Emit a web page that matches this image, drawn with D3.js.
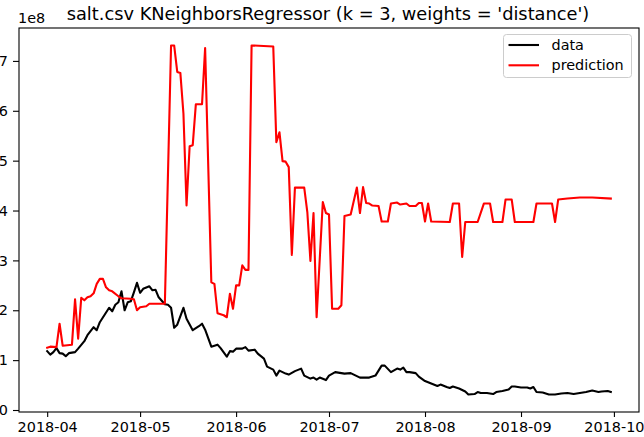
<!DOCTYPE html>
<html><head><meta charset="utf-8">
<script src="https://cdn.jsdelivr.net/npm/d3@7/dist/d3.min.js"></script>
<style>
body{margin:0;background:#fff}
svg{display:block}
text{font-family:"DejaVu Sans",sans-serif;fill:#000}
</style>
</head><body>
<svg id="chart" width="644" height="437"></svg>
<script>
const titleText = "salt.csv KNeighborsRegressor (k = 3, weights = 'distance')";
const seriesNames = ["data", "prediction"];
const seriesColors = ["#000000", "#ff0000"];
const yExponentLabel = "1e8";

const dataDates = ["2018-04-01","2018-04-02","2018-04-03","2018-04-04","2018-04-05","2018-04-06","2018-04-07","2018-04-08","2018-04-10","2018-04-11","2018-04-13","2018-04-14","2018-04-16","2018-04-17","2018-04-18","2018-04-21","2018-04-22","2018-04-23","2018-04-24","2018-04-25","2018-04-26","2018-04-27","2018-04-28","2018-04-29","2018-04-30","2018-05-01","2018-05-02","2018-05-04","2018-05-05","2018-05-06","2018-05-07","2018-05-09","2018-05-10","2018-05-11","2018-05-12","2018-05-13","2018-05-15","2018-05-16","2018-05-18","2018-05-20","2018-05-21","2018-05-22","2018-05-24","2018-05-26","2018-05-27","2018-05-29","2018-05-30","2018-05-31","2018-06-01","2018-06-03","2018-06-04","2018-06-05","2018-06-07","2018-06-08","2018-06-10","2018-06-11","2018-06-13","2018-06-14","2018-06-15","2018-06-17","2018-06-18","2018-06-20","2018-06-22","2018-06-23","2018-06-25","2018-06-26","2018-06-27","2018-06-28","2018-06-30","2018-07-01","2018-07-03","2018-07-04","2018-07-06","2018-07-08","2018-07-09","2018-07-11","2018-07-14","2018-07-16","2018-07-17","2018-07-18","2018-07-19","2018-07-21","2018-07-23","2018-07-24","2018-07-25","2018-07-26","2018-07-27","2018-07-29","2018-07-30","2018-08-01","2018-08-03","2018-08-05","2018-08-06","2018-08-08","2018-08-09","2018-08-10","2018-08-12","2018-08-14","2018-08-15","2018-08-17","2018-08-18","2018-08-19","2018-08-21","2018-08-23","2018-08-24","2018-08-26","2018-08-28","2018-08-29","2018-08-30","2018-09-01","2018-09-03","2018-09-04","2018-09-05","2018-09-06","2018-09-08","2018-09-10","2018-09-12","2018-09-14","2018-09-16","2018-09-18","2018-09-19","2018-09-21","2018-09-22","2018-09-24","2018-09-26","2018-09-27","2018-09-29","2018-09-30"];
const dataValues = [1.18,1.11,1.16,1.24,1.14,1.13,1.08,1.14,1.16,1.23,1.38,1.50,1.66,1.60,1.76,2.05,1.98,2.11,2.16,2.38,2.00,2.16,2.18,2.36,2.55,2.35,2.43,2.48,2.40,2.41,2.26,2.12,2.11,2.05,1.65,1.71,2.05,1.83,1.60,1.68,1.73,1.61,1.27,1.31,1.24,1.07,1.18,1.17,1.23,1.23,1.26,1.19,1.21,1.13,1.03,0.87,0.81,0.69,0.79,0.73,0.71,0.78,0.83,0.69,0.63,0.65,0.61,0.65,0.60,0.69,0.76,0.75,0.73,0.74,0.71,0.65,0.65,0.69,0.79,0.89,0.89,0.76,0.83,0.81,0.85,0.76,0.76,0.74,0.67,0.58,0.53,0.48,0.51,0.46,0.44,0.47,0.43,0.37,0.31,0.32,0.36,0.34,0.34,0.32,0.36,0.38,0.41,0.47,0.47,0.45,0.45,0.43,0.46,0.36,0.35,0.31,0.31,0.33,0.34,0.32,0.33,0.35,0.36,0.39,0.36,0.37,0.38,0.36];

const predDates = ["2018-04-01","2018-04-02","2018-04-04","2018-04-05","2018-04-06","2018-04-09","2018-04-10","2018-04-11","2018-04-12","2018-04-13","2018-04-14","2018-04-15","2018-04-16","2018-04-17","2018-04-18","2018-04-19","2018-04-20","2018-04-21","2018-04-22","2018-04-24","2018-04-25","2018-04-28","2018-04-29","2018-04-30","2018-05-01","2018-05-03","2018-05-04","2018-05-09","2018-05-11","2018-05-12","2018-05-13","2018-05-14","2018-05-15","2018-05-16","2018-05-17","2018-05-18","2018-05-19","2018-05-21","2018-05-22","2018-05-24","2018-05-25","2018-05-26","2018-05-28","2018-05-29","2018-05-30","2018-05-31","2018-06-01","2018-06-02","2018-06-03","2018-06-04","2018-06-05","2018-06-06","2018-06-13","2018-06-14","2018-06-15","2018-06-16","2018-06-17","2018-06-18","2018-06-19","2018-06-20","2018-06-23","2018-06-24","2018-06-25","2018-06-26","2018-06-27","2018-06-29","2018-06-30","2018-07-01","2018-07-02","2018-07-04","2018-07-05","2018-07-06","2018-07-08","2018-07-10","2018-07-11","2018-07-12","2018-07-13","2018-07-14","2018-07-15","2018-07-17","2018-07-18","2018-07-20","2018-07-21","2018-07-23","2018-07-24","2018-07-26","2018-07-27","2018-07-29","2018-07-30","2018-07-31","2018-08-01","2018-08-02","2018-08-03","2018-08-09","2018-08-10","2018-08-12","2018-08-13","2018-08-14","2018-08-18","2018-08-20","2018-08-22","2018-08-23","2018-08-26","2018-08-27","2018-08-29","2018-08-30","2018-09-05","2018-09-06","2018-09-11","2018-09-12","2018-09-13","2018-09-16","2018-09-20","2018-09-24","2018-09-30"];
const predValues = [1.25,1.27,1.26,1.73,1.29,1.31,2.22,1.43,2.25,2.20,2.26,2.28,2.34,2.53,2.63,2.63,2.46,2.40,2.38,2.28,2.24,2.23,2.22,2.00,2.06,2.08,2.13,2.13,7.31,7.31,6.78,6.76,5.94,4.10,5.29,5.31,6.13,6.13,7.26,2.56,2.53,1.94,1.90,1.86,2.33,2.03,2.50,2.50,2.90,2.81,2.81,7.31,7.29,5.37,5.57,4.99,4.98,4.87,3.11,4.46,4.46,3.97,2.99,3.95,1.86,4.17,3.95,3.92,2.03,2.03,2.10,3.89,3.92,4.46,3.95,4.47,4.15,4.14,4.10,4.09,3.78,3.78,4.14,4.16,4.12,4.14,4.09,4.09,4.15,4.15,3.78,4.14,3.78,3.77,4.14,4.14,3.07,3.77,3.77,4.14,4.14,3.77,3.77,4.22,4.22,3.77,3.77,4.14,4.14,3.77,4.22,4.24,4.26,4.26,4.24];

const xTickLabels = ["2018-04","2018-05","2018-06","2018-07","2018-08","2018-09","2018-10"];
const yTickLabels = ["0","1","2","3","4","5","6","7"];

const svg = d3.select("#chart");
const plot = {left: 19, top: 28, right: 639, bottom: 412};
const parseDay = d3.utcParse("%Y-%m-%d");
const parseMonth = d3.utcParse("%Y-%m");

const series = [
  dataDates.map((d, i) => ({date: parseDay(d), value: dataValues[i]})),
  predDates.map((d, i) => ({date: parseDay(d), value: predValues[i]}))
];

// matplotlib-style 5% margins around data extent
const allDates = series.flat().map(p => +p.date);
const allVals = series.flat().map(p => p.value);
const [dx0, dx1] = d3.extent(allDates);
const [vy0, vy1] = d3.extent(allVals);
const padX = (dx1 - dx0) * 0.05, padY = (vy1 - vy0) * 0.05;

const x = d3.scaleUtc().domain([new Date(dx0 - padX), new Date(dx1 + padX)]).range([plot.left, plot.right]);
const y = d3.scaleLinear().domain([vy0 - padY, vy1 + padY]).range([plot.bottom, plot.top]);

const tickFont = "14.4px";

// x axis
const xAxis = d3.axisBottom(x)
  .tickValues(xTickLabels.map(parseMonth))
  .tickFormat((d, i) => xTickLabels[i])
  .tickSize(5).tickPadding(5);
const gx = svg.append("g").attr("transform", `translate(0,${plot.bottom})`).call(xAxis);
gx.select(".domain").remove();
gx.selectAll("line").attr("stroke", "#000").attr("stroke-width", 1.1);
gx.selectAll("text").attr("font-size", tickFont).attr("font-family", "DejaVu Sans").attr("fill", "#000");

// y axis
const yAxis = d3.axisLeft(y)
  .tickValues(yTickLabels.map(Number))
  .tickFormat((d, i) => yTickLabels[i])
  .tickSize(6).tickPadding(5);
const gy = svg.append("g").attr("transform", `translate(${plot.left},0)`).call(yAxis);
gy.select(".domain").remove();
gy.selectAll("line").attr("stroke", "#000").attr("stroke-width", 1.1);
gy.selectAll("text").attr("font-size", tickFont).attr("font-family", "DejaVu Sans").attr("fill", "#000");

// lines
const line = d3.line().x(d => x(d.date)).y(d => y(d.value));
series.forEach((s, i) => {
  svg.append("path").datum(s)
    .attr("fill", "none")
    .attr("stroke", seriesColors[i])
    .attr("stroke-width", 2.1)
    .attr("stroke-linejoin", "round")
    .attr("stroke-linecap", "square")
    .attr("d", line);
});

// frame
svg.append("rect")
  .attr("x", plot.left).attr("y", plot.top)
  .attr("width", plot.right - plot.left).attr("height", plot.bottom - plot.top)
  .attr("fill", "none").attr("stroke", "#000").attr("stroke-width", 1.1);

// title
svg.append("text")
  .attr("x", (plot.left + plot.right) / 2 - 1).attr("y", 20)
  .attr("text-anchor", "middle")
  .attr("font-size", "17.8px")
  .text(titleText);

// offset label
svg.append("text")
  .attr("x", plot.left - 1).attr("y", 23)
  .attr("font-size", tickFont)
  .text(yExponentLabel);

// legend
const leg = svg.append("g").attr("transform", "translate(503.5,34.5)");
leg.append("rect")
  .attr("width", 128).attr("height", 43).attr("rx", 3)
  .attr("fill", "#fff").attr("fill-opacity", 0.8)
  .attr("stroke", "#cccccc").attr("stroke-width", 1);
seriesNames.forEach((name, i) => {
  const cy = 10.5 + i * 20.3;
  leg.append("line")
    .attr("x1", 5).attr("x2", 35.5).attr("y1", cy).attr("y2", cy)
    .attr("stroke", seriesColors[i]).attr("stroke-width", 2.1);
  leg.append("text")
    .attr("x", 48).attr("y", cy + 5)
    .attr("font-size", tickFont)
    .text(name);
});
</script>
</body></html>
